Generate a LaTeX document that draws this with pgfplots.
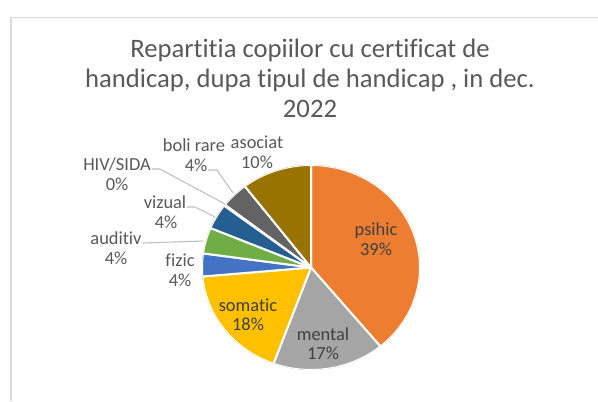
\documentclass[border=0pt]{standalone}
\usepackage{pgfplots}
\pgfplotsset{compat=1.18}
\usepgfplotslibrary{polar}
\usepackage{fontspec}
\setmainfont{Carlito}[Ligatures=NoCommon]
\definecolor{psihic}{HTML}{ED7D31}
\definecolor{mental}{HTML}{A5A5A5}
\definecolor{somatic}{HTML}{FFC000}
\definecolor{fizic}{HTML}{4472C4}
\definecolor{auditiv}{HTML}{70AD47}
\definecolor{vizual}{HTML}{255E91}
\definecolor{hiv}{HTML}{9E480E}
\definecolor{boli}{HTML}{636363}
\definecolor{asociat}{HTML}{997300}
\definecolor{framegray}{HTML}{D9D9D9}
\definecolor{titlegray}{HTML}{595959}
\definecolor{labgray}{HTML}{404040}
\definecolor{leadgray}{HTML}{BFBFBF}
% shares (percent), clockwise from 12 o'clock
\def\vPs{39.0}\def\vMe{16.6}\def\vSo{18.0}\def\vFi{3.6}\def\vAu{4.1}
\def\vVi{4.0}\def\vHi{0.2}\def\vBo{4.1}\def\vAs{10.4}
\begin{document}
\begin{tikzpicture}
\path[use as bounding box, fill=white] (0pt,0pt) rectangle (448.5pt,300.75pt);
\begin{polaraxis}[
  at={(233.25pt,100.125pt)}, anchor=center,
  scale only axis, width=163.5pt, height=153.75pt,
  hide axis, ymin=0, ymax=1, xmin=0, xmax=360,
  every axis plot/.append style={draw=white, line width=1.5pt, line join=round},
]
\addplot[fill=psihic, samples=80, domain={90-3.6*(\vPs)}:90] {1} -- (axis cs:0,0) -- cycle;
\addplot[fill=mental, samples=40, domain={90-3.6*(\vPs+\vMe)}:{90-3.6*(\vPs)}] {1} -- (axis cs:0,0) -- cycle;
\addplot[fill=somatic, samples=40, domain={90-3.6*(\vPs+\vMe+\vSo)}:{90-3.6*(\vPs+\vMe)}] {1} -- (axis cs:0,0) -- cycle;
\addplot[fill=fizic, samples=12, domain={90-3.6*(\vPs+\vMe+\vSo+\vFi)}:{90-3.6*(\vPs+\vMe+\vSo)}] {1} -- (axis cs:0,0) -- cycle;
\addplot[fill=auditiv, samples=12, domain={90-3.6*(\vPs+\vMe+\vSo+\vFi+\vAu)}:{90-3.6*(\vPs+\vMe+\vSo+\vFi)}] {1} -- (axis cs:0,0) -- cycle;
\addplot[fill=vizual, samples=12, domain={90-3.6*(\vPs+\vMe+\vSo+\vFi+\vAu+\vVi)}:{90-3.6*(\vPs+\vMe+\vSo+\vFi+\vAu)}] {1} -- (axis cs:0,0) -- cycle;
\addplot[fill=boli, samples=12, domain={90-3.6*(\vPs+\vMe+\vSo+\vFi+\vAu+\vVi+\vHi+\vBo)}:{90-3.6*(\vPs+\vMe+\vSo+\vFi+\vAu+\vVi+\vHi)}] {1} -- (axis cs:0,0) -- cycle;
\addplot[fill=asociat, samples=30, domain={90-3.6*(\vPs+\vMe+\vSo+\vFi+\vAu+\vVi+\vHi+\vBo+\vAs)}:{90-3.6*(\vPs+\vMe+\vSo+\vFi+\vAu+\vVi+\vHi+\vBo)}] {1} -- (axis cs:0,0) -- cycle;
\end{polaraxis}
\begin{axis}[
  at={(0pt,0pt)}, anchor=south west,
  scale only axis, width=448.5pt, height=300.75pt,
  xmin=0, xmax=598, ymin=0, ymax=401, y dir=reverse,
  hide axis, clip=false,
]
\addplot[draw=framegray, line width=1.3pt] coordinates {(10.8,401) (10.8,17.5) (598,17.5)};
\addplot[draw=leadgray, line width=0.8pt] coordinates {(152,169) (160,169) (225,204)};
\addplot[draw=leadgray, line width=0.8pt] coordinates {(208,170) (217,170) (233,193)};
\addplot[draw=leadgray, line width=0.8pt] coordinates {(187,207) (195,207) (215,217)};
\addplot[draw=leadgray, line width=0.8pt] coordinates {(143,243) (203,241)};
% title
\begin{scope}[every node/.style={anchor=base, text=titlegray, font=\fontsize{20pt}{24pt}\selectfont, inner sep=0pt}]
\node at (axis cs:310,57) {Repartitia copiilor cu certificat de};
\node at (axis cs:310,87) {handicap, dupa tipul de handicap , in dec.};
\node at (axis cs:310,117) {2022};
\end{scope}
% inside labels
\begin{scope}[every node/.style={anchor=base, text=labgray, font=\fontsize{13.8pt}{16pt}\selectfont, inner sep=0pt}]
\node at (axis cs:376,235) {psihic};
\node at (axis cs:376,255) {39\%};
\node at (axis cs:323,340) {mental};
\node at (axis cs:323,359) {17\%};
\node at (axis cs:248,311) {somatic};
\node at (axis cs:248,330) {18\%};
\end{scope}
% outside labels
\begin{scope}[every node/.style={anchor=base, text=titlegray, font=\fontsize{13.8pt}{16pt}\selectfont, inner sep=0pt}]
\node at (axis cs:180,266) {fizic};
\node at (axis cs:180,286) {4\%};
\node at (axis cs:116,244) {auditiv};
\node at (axis cs:116,264) {4\%};
\node at (axis cs:165,208) {vizual};
\node at (axis cs:166,228) {4\%};
\node at (axis cs:117,170) {HIV/SIDA};
\node at (axis cs:117,190) {0\%};
\node at (axis cs:194,151) {boli rare};
\node at (axis cs:196,171) {4\%};
\node at (axis cs:257,148) {asociat};
\node at (axis cs:257,168) {10\%};
\end{scope}
\end{axis}
\end{tikzpicture}
\end{document}
